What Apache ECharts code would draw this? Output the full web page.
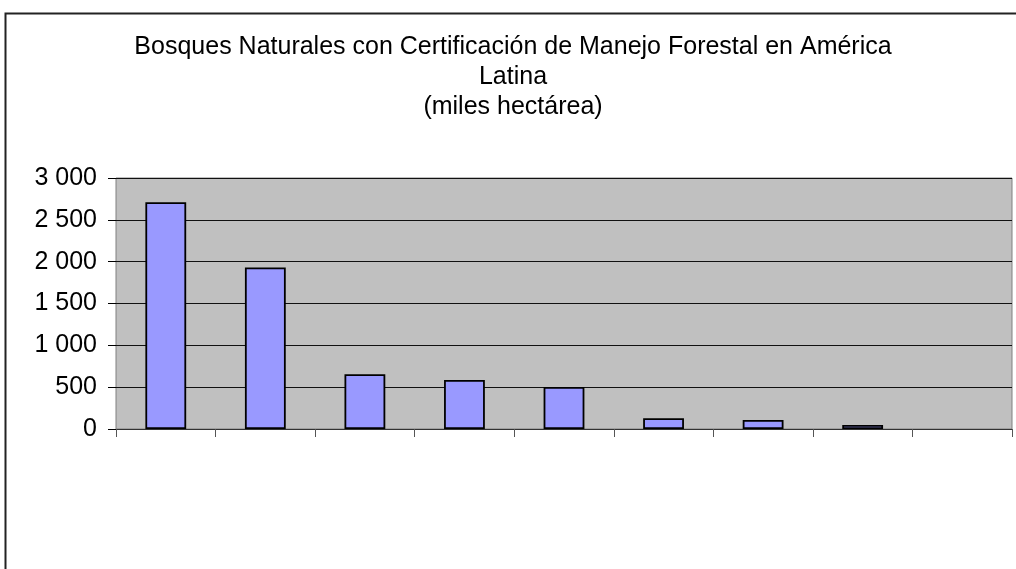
<!DOCTYPE html>
<html>
<head>
<meta charset="utf-8">
<script src="https://cdn.jsdelivr.net/npm/echarts@6/dist/echarts.min.js"></script>
<style>
html,body{margin:0;padding:0;background:#fff;}
#chart{width:1016px;height:569px;}
</style>
</head>
<body>
<div id="chart"></div>
<script>
var titleLines = ['Bosques Naturales con Certificación de Manejo Forestal en América', 'Latina', '(miles hectárea)'];
var categories = ['', '', '', '', '', '', '', '', ''];
var values = [2710, 1930, 654, 586, 502, 128, 108, 48, null];
var yTicks = [0, 500, 1000, 1500, 2000, 2500, 3000];

var chart = echarts.init(document.getElementById('chart'), null, {renderer: 'canvas'});
chart.setOption({
  animation: false,
  backgroundColor: '#ffffff',
  title: {
    text: titleLines.join('\n'),
    left: 508,
    textAlign: 'center',
    top: 27,
    textStyle: {fontFamily: 'Liberation Sans', fontSize: 25, fontWeight: 'normal', color: '#000', lineHeight: 30}
  },
  graphic: [{
    type: 'polyline',
    shape: {points: [[5.5, 569], [5.5, 13.5], [1016, 13.5]]},
    style: {stroke: '#222', lineWidth: 2, fill: null},
    silent: true
  }],
  grid: {
    left: 116, right: 4, top: 178, bottom: 140,
    show: true, backgroundColor: '#c0c0c0', borderColor: '#808080', borderWidth: 1
  },
  xAxis: {
    type: 'category',
    data: categories,
    axisLine: {lineStyle: {color: '#333', width: 1}},
    axisTick: {show: true, length: 8, lineStyle: {color: '#555'}},
    axisLabel: {show: false}
  },
  yAxis: {
    type: 'value',
    min: yTicks[0], max: yTicks[yTicks.length - 1], interval: 500,
    axisLine: {show: false},
    axisTick: {show: true, length: 8, lineStyle: {color: '#000'}},
    axisLabel: {
      fontFamily: 'Liberation Sans', fontSize: 25, color: '#000', margin: 19,
      formatter: function (v) { return String(v).replace(/\B(?=(\d{3})+(?!\d))/g, ' '); }
    },
    splitLine: {show: true, lineStyle: {color: '#111', width: 1}}
  },
  series: [{
    type: 'bar',
    data: values,
    barCategoryGap: '59%',
    itemStyle: {color: '#9999ff', borderColor: '#000', borderWidth: 1.8}
  }]
});
</script>
</body>
</html>
